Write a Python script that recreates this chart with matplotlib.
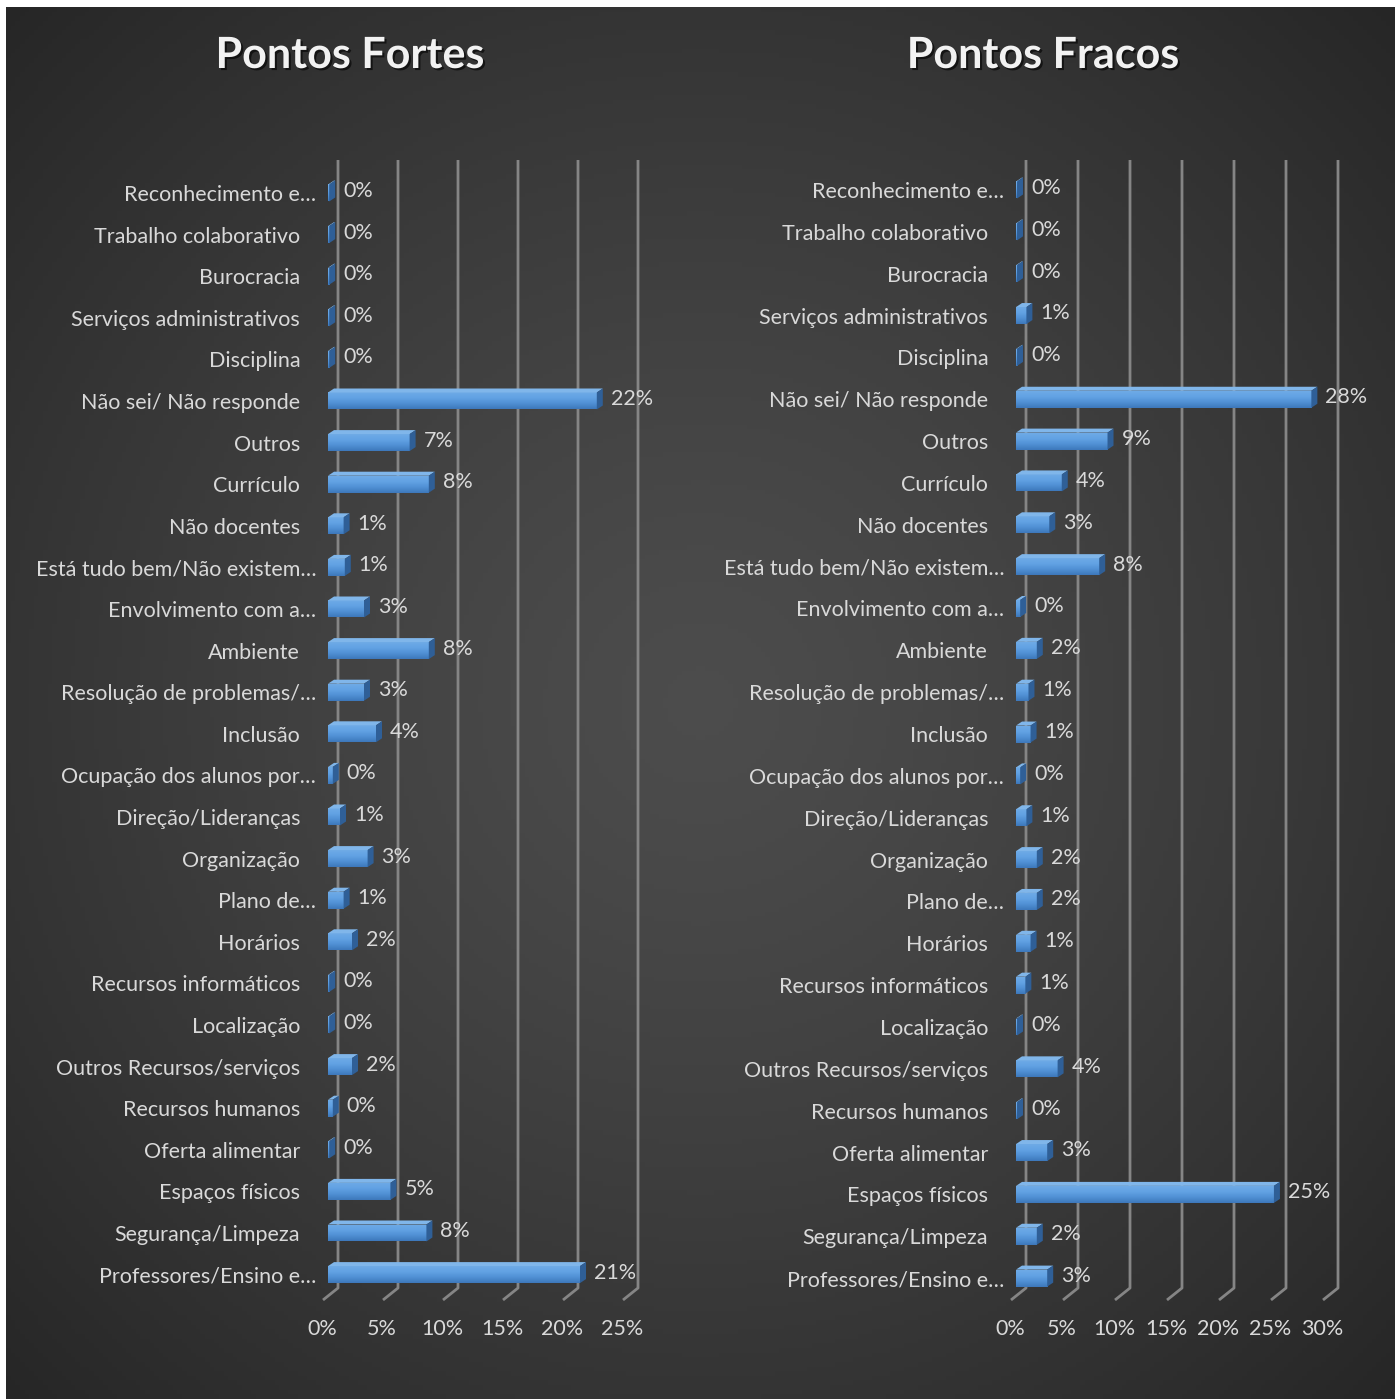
import numpy as np
import matplotlib.pyplot as plt
from matplotlib.patches import Polygon, Rectangle
from matplotlib.transforms import ScaledTranslation
import matplotlib.patheffects as pe

plt.rcParams['font.family'] = ['Lato', 'DejaVu Sans']

categorias = [
    "Reconhecimento e…", "Trabalho colaborativo", "Burocracia",
    "Serviços administrativos", "Disciplina", "Não sei/ Não responde",
    "Outros", "Currículo", "Não docentes", "Está tudo bem/Não existem…",
    "Envolvimento com a…", "Ambiente", "Resolução de problemas/…",
    "Inclusão", "Ocupação dos alunos por…", "Direção/Lideranças",
    "Organização", "Plano de…", "Horários", "Recursos informáticos",
    "Localização", "Outros Recursos/serviços", "Recursos humanos",
    "Oferta alimentar", "Espaços físicos", "Segurança/Limpeza",
    "Professores/Ensino e…",
]

# percentagens
fortes = [0.1, 0.1, 0.1, 0.1, 0.1, 22.4, 6.8, 8.4, 1.3, 1.4,
          3.0, 8.4, 3.0, 4.0, 0.4, 1.0, 3.3, 1.3, 2.0, 0.1,
          0.1, 2.0, 0.4, 0.1, 5.2, 8.2, 21.0]
fracos = [0.1, 0.1, 0.1, 1.0, 0.1, 28.4, 8.8, 4.4, 3.2, 8.0,
          0.4, 2.0, 1.2, 1.4, 0.4, 1.0, 2.0, 2.0, 1.4, 0.9,
          0.1, 4.0, 0.1, 3.0, 24.8, 2.0, 3.0]

W, H = 1400, 1399
fig = plt.figure(figsize=(W / 100, H / 100), dpi=100, facecolor='white')

# fundo escuro com gradiente radial
bg = fig.add_axes([6 / W, 0, (1395 - 6) / W, (H - 7) / H])
yy, xx = np.mgrid[-1:1:300j, -1:1:300j]
r = np.sqrt(xx ** 2 + yy ** 2) / np.sqrt(2)
g = np.clip(0.30 - 0.15 * r ** 1.3, 0, 1)
bg.imshow(np.dstack([g, g, g]), extent=(0, 1, 0, 1), aspect='auto')
bg.set_axis_off()

txt = '#d9d9d9'
grid_c = '#858585'
fs = 15.5


def px(v):
    return ScaledTranslation(v / 100, 0, fig.dpi_scale_trans)


def painel(left, xmax, step, vals, titulo, tcx, row0, row_sp):
    top_px, bot_px = 160, 1300
    n = len(categorias)
    width_px = 12.0 * 25 if xmax == 25 else 10.4 * 30
    ax = fig.add_axes([left / W, 1 - bot_px / H, width_px / W,
                       (bot_px - top_px) / H])
    ax.set_facecolor('none')
    y_top = (top_px - row0) / row_sp
    y_bot = (bot_px - row0) / row_sp
    ax.set_xlim(0, xmax)
    ax.set_ylim(y_bot, y_top)
    for s in ax.spines.values():
        s.set_visible(False)
    sx = width_px / xmax
    sy = row_sp

    # grelha 3D (parede de fundo + chão)
    ticks = np.arange(0, xmax + 0.1, step)
    for t in ticks:
        xb = t + 10 / sx
        yb = y_bot - 12 / sy
        ax.plot([xb, xb, t - 5 / sx], [y_top, yb, y_bot], color=grid_c,
                lw=2, solid_capstyle='butt', zorder=1, clip_on=False)

    h = 17 / sy
    dx, dy = 6 / sx, 4 / sy
    grad = np.linspace(0, 1, 64)[:, None]
    cmap = plt.matplotlib.colors.LinearSegmentedColormap.from_list(
        'b', ['#6eaae6', '#62a2e4', '#5090d4', '#3d78bb'])
    for i, v in enumerate(vals):
        y0, y1 = i - h / 2, i + h / 2
        im = ax.imshow(grad, extent=(0, v, y1, y0), cmap=cmap,
                       aspect='auto', zorder=3, interpolation='bilinear')
        rect = Rectangle((0, y0), v, h, transform=ax.transData)
        im.set_clip_path(rect)
        ax.add_patch(Polygon([(0, y0), (v, y0), (v + dx, y0 - dy),
                              (dx, y0 - dy)], closed=True,
                             fc='#80b6ea', ec='none', zorder=3))
        ax.add_patch(Polygon([(v, y0), (v, y1), (v + dx, y1 - dy),
                              (v + dx, y0 - dy)], closed=True,
                             fc='#2f5f97', ec='none', zorder=3))
        ax.annotate(f"{round(v)}%", xy=(v, i - 0.05), xytext=(10, 0),
                    textcoords='offset points', va='center', ha='left',
                    color=txt, fontsize=fs, zorder=4)

    ax.set_yticks(range(n))
    ax.set_yticklabels(categorias)
    ax.tick_params(axis='y', length=0, pad=20, labelsize=fs, labelcolor=txt)
    for lbl in ax.get_yticklabels():
        if lbl.get_text().endswith('…'):
            lbl.set_transform(lbl.get_transform() + px(16))
    ax.set_xticks(ticks)
    ax.set_xticklabels([f"{int(t)}%" for t in ticks])
    ax.tick_params(axis='x', length=0, pad=14, labelsize=fs, labelcolor=txt)
    for lbl in ax.get_xticklabels():
        lbl.set_transform(lbl.get_transform() + px(-6))

    fig.text(tcx / W, 1 - 55 / H, titulo, ha='center', va='center',
             color='#f2f2f2', fontsize=31, fontweight='bold',
             path_effects=[pe.withSimplePatchShadow(offset=(1.5, -1.5),
                                                    shadow_rgbFace='black',
                                                    alpha=0.6)])
    return ax


painel(328, 25, 5, fortes, "Pontos Fortes", 350, 193, 41.6)
painel(1016, 30, 5, fracos, "Pontos Fracos", 1043, 190, 41.85)

fig.savefig('out.png', dpi=100, facecolor=fig.get_facecolor())
